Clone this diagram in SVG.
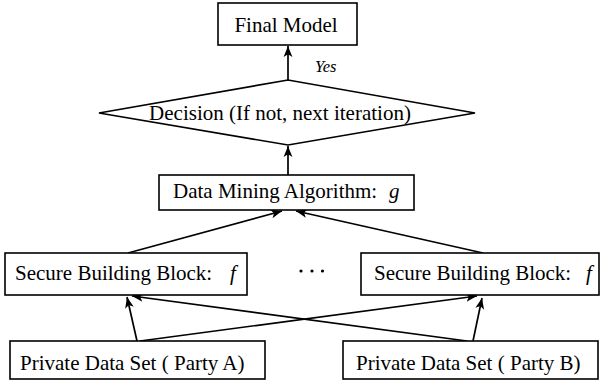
<svg xmlns="http://www.w3.org/2000/svg" width="601" height="385" viewBox="0 0 601 385">
  <style>
    .box { fill: #fff; stroke: #000; stroke-width: 1.6; }
    .lbl { font-family: "Liberation Serif", "Times New Roman", serif; font-size: 21px; fill: #000; }
    .it { font-style: italic; }
    .edge { stroke: #000; stroke-width: 1.7; fill: none; marker-end: url(#arrow); }
  </style>
  <defs>
    <marker id="arrow" markerUnits="userSpaceOnUse" markerWidth="11" markerHeight="11" viewBox="0 0 10 10" refX="10" refY="5" orient="auto">
      <path d="M0,1 L10,5 L0,9 L2.5,5 Z" fill="#000"/>
    </marker>
  </defs>

  <g id="connectors">
    <line class="edge" x1="288" y1="80" x2="288" y2="46"/>
    <line class="edge" x1="288" y1="175" x2="288" y2="146"/>
    <line class="edge" x1="128" y1="253" x2="282" y2="211"/>
    <line class="edge" x1="483" y1="253" x2="296" y2="211"/>
    <line class="edge" x1="137" y1="341" x2="127" y2="297"/>
    <line class="edge" x1="467" y1="341" x2="132" y2="296"/>
    <line class="edge" x1="140" y1="341" x2="477" y2="296"/>
    <line class="edge" x1="473" y1="341" x2="482" y2="298"/>
    <text class="lbl it" x="315" y="72" style="font-size:16.5px">Yes</text>
  </g>

  <g id="final-model">
    <rect class="box" x="218" y="3" width="139" height="42"/>
    <text class="lbl" x="286" y="32" text-anchor="middle">Final Model</text>
  </g>

  <g id="decision">
    <polygon class="box" points="99,113 288,80 475,113 288,145"/>
    <text class="lbl" x="280" y="120" text-anchor="middle">Decision (If not, next iteration)</text>
  </g>

  <g id="data-mining">
    <rect class="box" x="159" y="175" width="255" height="35"/>
    <text class="lbl" x="173" y="198">Data Mining Algorithm:</text>
    <text class="lbl it" x="389" y="198">g</text>
  </g>

  <g id="secure-block-a">
    <rect class="box" x="5" y="253" width="242" height="42"/>
    <text class="lbl" x="15" y="280">Secure Building Block:</text>
    <text class="lbl it" x="230" y="280">f</text>
  </g>

  <g id="ellipsis">
    <circle cx="301" cy="271" r="1.6" fill="#000"/>
    <circle cx="312" cy="271" r="1.6" fill="#000"/>
    <circle cx="322.5" cy="271" r="1.6" fill="#000"/>
  </g>

  <g id="secure-block-b">
    <rect class="box" x="361" y="253" width="238" height="42"/>
    <text class="lbl" x="374" y="280">Secure Building Block:</text>
    <text class="lbl it" x="586" y="280">f</text>
  </g>

  <g id="data-set-a">
    <rect class="box" x="10" y="341" width="255" height="38"/>
    <text class="lbl" x="20" y="370">Private Data Set ( Party A)</text>
  </g>

  <g id="data-set-b">
    <rect class="box" x="343" y="341" width="255" height="38"/>
    <text class="lbl" x="356" y="370">Private Data Set ( Party B)</text>
  </g>
</svg>
